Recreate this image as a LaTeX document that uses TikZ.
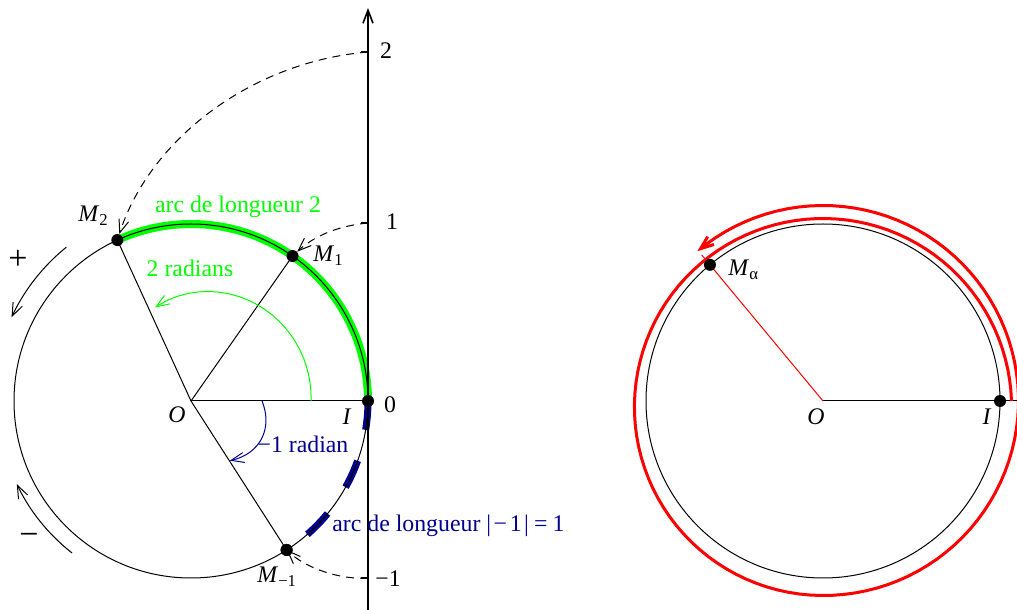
\documentclass[tikz,border=0pt]{standalone}
\usepackage{fontspec}
\setmainfont{Liberation Serif}
\usetikzlibrary{arrows.meta}
\definecolor{dblue}{RGB}{0,0,140}
\definecolor{vgreen}{RGB}{0,255,0}
\newcommand{\Mlab}[1]{\textit{M}\textsubscript{#1}}
\begin{document}
\begin{tikzpicture}[x=0.5pt,y=0.5pt,
  font=\fontsize{11.9}{14}\selectfont,
  tip/.style={-{Straight Barb[length=6.5pt,width=5pt]}},
  dot/.style={circle,fill=black,inner sep=0pt,minimum size=6pt},
  fine/.style={line width=0.5pt},
  dashcurve/.style={dash pattern=on 4pt off 3pt,line width=0.5pt},
  lbl/.style={inner sep=0pt,anchor=base},
  sign/.style={inner sep=0pt,font=\fontsize{17}{20}\selectfont}
]
\useasboundingbox (0,0) rectangle (1017,610);

% ---------------- left figure ----------------
\begin{scope}[shift={(191,209)}]
  \coordinate (OL) at (0,0);
  \coordinate (pI) at (0:177);
  \coordinate (p1) at (55:177);
  \coordinate (p2) at (114.59:177);
  \coordinate (pm1) at (-57.3:177);
  \draw[vgreen,line width=4pt] (pI) arc (0:114.59:177);
  \draw[dblue,line width=3.5pt,dash pattern=on 14.5pt off 16pt] (pI) arc (0:-57.3:177);
  \draw[fine] (OL) circle (177);
  \draw[fine] (OL) -- (pI);
  \draw[fine] (OL) -- (p1);
  \draw[fine] (OL) -- (p2);
  \draw[fine] (OL) -- (pm1);
  \draw[vgreen,fine,tip] plot[domain=0:111,samples=40] (\x:{120+3.7*\x/57.3-7.2*(\x/57.3)^2});
  \draw[dblue,fine,tip] plot[domain=0:-57,samples=30] (\x:{71+9*sin(-\x*180/57.3)});
  \draw[fine,tip] (129:198) arc (129:155:198);
  \draw[fine,tip] (232:193) arc (232:205.5:193);
  \node[dot] (IL) at (pI) {};
  \node[dot] (M1) at (p1) {};
  \node[dot] (M2) at (p2) {};
  \node[dot] (Mm1) at (pm1) {};
\end{scope}

% axis
\coordinate (axb) at (368,0);
\coordinate (axt) at (368,602);
\draw[line width=0.8pt,tip] (axb) -- (axt);
\coordinate (t2) at (368,558);
\coordinate (t1) at (368,387);
\coordinate (t0) at (368,209);
\coordinate (tm1) at (368,32);
\foreach \t in {t2,t1,tm1} \draw[line width=0.8pt] (\t) -- ++(-7,0);

\node[lbl] (l2) at (386,551) {2};
\node[lbl] (l1) at (392,380) {1};
\node[lbl] (l0) at (390,197) {0};
\node[lbl] (lm1) at (388,23) {−1};

% wrapping curves
\draw[dashcurve,tip] (t2) .. controls (250,548) and (150,470) .. (M2);
\draw[dashcurve,tip] (t1) .. controls (335,384) and (312,372) .. (M1);
\draw[dashcurve,tip] (tm1) .. controls (340,30) and (305,42) .. (Mm1.center);
\node[dot] at (Mm1) {};

% labels left
\node[lbl,anchor=base west] (LM2) at (78,388) {\Mlab{2}};
\node[lbl,anchor=base west] (LM1) at (313,348) {\Mlab{1}};
\node[lbl,anchor=base west] (LMm1) at (257,27) {\Mlab{−1}};
\node[lbl] (LO) at (177,187) {\textit{O}};
\node[lbl] (LI) at (347,185) {\textit{I}};
\node[lbl,text=vgreen] (Larc2) at (238,397) {arc de longueur 2};
\node[lbl,text=vgreen] (Lrad2) at (190,333) {2 radians};
\node[lbl,text=dblue] (Lrad1) at (303,157) {−1 radian};
\node[lbl,anchor=base west,text=dblue] (Larc1) at (332,78) {arc de longueur |\kern0.1em−\kern0.12em1\kern0.1em|\kern0.22em=\kern0.22em1};
\node[sign] (plus) at (18,350) {+};
\node[sign] (minus) at (29,71) {−};

% ---------------- right figure ----------------
\begin{scope}[shift={(823,209)}]
  \coordinate (OR) at (0,0);
  \coordinate (qI) at (0:177);
  \coordinate (qa) at (129.7:177);
  \coordinate (qend) at (194,0);
  \coordinate (qout) at (129.7:190);
  \draw[fine] (OR) circle (177);
  \draw[fine] (OR) -- (qend);
  \draw[red,fine] (OR) -- (qout);
  \draw[red,line width=1.5pt,tip] plot[domain=0:490,samples=150]
     (\x:{(\x<270) ? (188.5-6*sin(\x)) : (min(195.5,194.5+(\x-270)/90))});
  \node[dot] (IR) at (qI) {};
  \node[dot] (Ma) at (qa) {};
\end{scope}
\node[lbl] (RO) at (816,185) {\textit{O}};
\node[lbl] (RI) at (987,185) {\textit{I}};
\node[lbl,anchor=base west] (RMa) at (728,334) {\Mlab{α}};
\end{tikzpicture}
\end{document}
